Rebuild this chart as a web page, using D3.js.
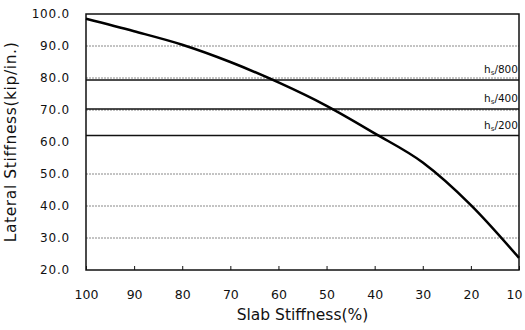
<!DOCTYPE html>
<html>
<head>
<meta charset="utf-8">
<script src="https://cdn.jsdelivr.net/npm/d3@7"></script>
<style>
  body { margin: 0; background: #fff; }
  text { font-family: "DejaVu Sans", "Liberation Sans", Arial, sans-serif; fill: #111; }
</style>
</head>
<body>
<div id="chart"></div>
<script>
// slab stiffness (%) vs lateral stiffness (kip/in.)
const slab = [100, 90, 80, 70, 60, 50, 40, 30, 20, 10]
const lateral = [98.5, 94.6, 90.4, 85.0, 78.6, 71.3, 62.7, 53.6, 40.3, 23.8]
const xTicks = [100, 90, 80, 70, 60, 50, 40, 30, 20, 10]
const yTicks = [100, 90, 80, 70, 60, 50, 40, 30, 20]
const gridValues = [90, 80, 70, 50, 40, 30]
const limitLabels = ["800", "400", "200"]
const limitValues = [79.4, 70.3, 62.0]

const width = 525, height = 330
const margin = {top: 14, right: 6, bottom: 60, left: 86}
const font = "DejaVu Sans, Liberation Sans, Arial, sans-serif"

const x = d3.scaleLinear().domain([100, 10]).range([margin.left, width - margin.right])
const y = d3.scaleLinear().domain([20, 100]).range([height - margin.bottom, margin.top])

const svg = d3.select("#chart").append("svg")
  .attr("width", width)
  .attr("height", height)

// dotted grid
svg.append("g")
  .selectAll("line")
  .data(gridValues)
  .join("line")
  .attr("x1", x(100)).attr("x2", x(10))
  .attr("y1", d => y(d)).attr("y2", d => y(d))
  .attr("stroke", "#888")
  .attr("stroke-width", 1)
  .attr("stroke-dasharray", "2,1")

// drift limit lines
svg.append("g")
  .selectAll("line")
  .data(limitValues)
  .join("line")
  .attr("x1", x(100)).attr("x2", x(10))
  .attr("y1", d => y(d)).attr("y2", d => y(d))
  .attr("stroke", "#111")
  .attr("stroke-width", 1.5)

const lbl = svg.append("g")
  .selectAll("text")
  .data(limitLabels)
  .join("text")
  .attr("x", x(10) - 1)
  .attr("y", (d, i) => y(limitValues[i]) - 7)
  .attr("text-anchor", "end")
  .attr("font-size", 10.5)
lbl.append("tspan").text("h")
lbl.append("tspan").attr("font-size", 7).attr("dy", 2).text("s")
lbl.append("tspan").attr("dy", -2).text(d => "/" + d)

// frame
svg.append("rect")
  .attr("x", x(100)).attr("y", y(100))
  .attr("width", x(10) - x(100))
  .attr("height", y(20) - y(100))
  .attr("fill", "none")
  .attr("stroke", "#111")
  .attr("stroke-width", 1.5)

// bottom ticks pointing inward
svg.append("g")
  .attr("transform", `translate(0,${y(20)})`)
  .call(d3.axisBottom(x).tickValues(xTicks).tickSize(-4).tickPadding(20))
  .call(g => g.select(".domain").remove())
  .call(g => g.selectAll(".tick line").attr("stroke", "#111"))
  .call(g => g.selectAll(".tick text").attr("font-size", 12.5).attr("font-family", font).attr("fill", "#111"))
  .call(g => g.selectAll(".tick text").filter(d => d === 10).attr("text-anchor", "end").attr("dx", 3))

svg.append("g")
  .attr("transform", `translate(${x(100)},0)`)
  .call(d3.axisLeft(y).tickValues(yTicks).tickSize(0).tickPadding(16).tickFormat(d3.format(".1f")))
  .call(g => g.select(".domain").remove())
  .call(g => g.selectAll(".tick text").attr("font-size", 12).attr("letter-spacing", 0.8).attr("font-family", font).attr("fill", "#111"))

// curve
svg.append("path")
  .datum(slab.map((s, i) => [s, lateral[i]]))
  .attr("fill", "none")
  .attr("stroke", "#000")
  .attr("stroke-width", 2.5)
  .attr("stroke-linejoin", "round")
  .attr("d", d3.line().x(d => x(d[0])).y(d => y(d[1])).curve(d3.curveMonotoneX))

svg.append("text")
  .attr("x", (x(100) + x(10)) / 2)
  .attr("y", 320)
  .attr("text-anchor", "middle")
  .attr("font-size", 15.5)
  .text("Slab Stiffness(%)")

svg.append("text")
  .attr("transform", `translate(16,${(y(20) + y(100)) / 2}) rotate(-90)`)
  .attr("text-anchor", "middle")
  .attr("font-size", 15.5)
  .attr("letter-spacing", 0.6)
  .text("Lateral Stiffness(kip/in.)")
</script>
</body>
</html>
